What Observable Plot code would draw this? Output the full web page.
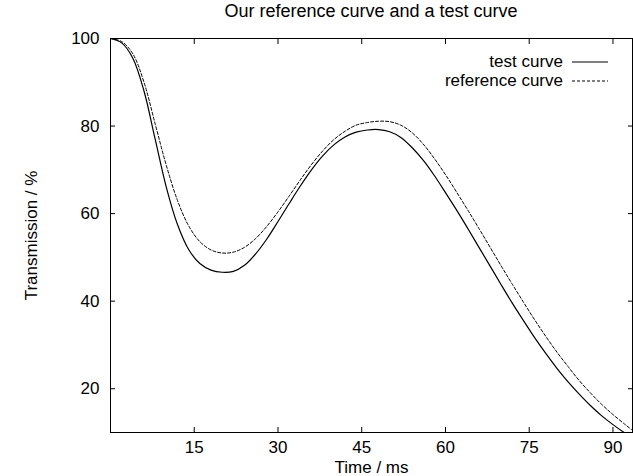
<!DOCTYPE html>
<html><head><meta charset="utf-8">
<script src="https://cdn.jsdelivr.net/npm/d3@7"></script>
<script src="https://cdn.jsdelivr.net/npm/@observablehq/plot@0.6"></script>
<style>
body{margin:0;background:#fff;font-family:"Liberation Sans",Arial,Helvetica,sans-serif;color:#000;}
#wrap{position:relative;width:633px;height:476px;overflow:hidden;}
#title{position:absolute;left:110px;width:522px;top:1px;text-align:center;font-size:18px;}
.leg{position:absolute;font-size:17px;line-height:17px;white-space:nowrap;}
</style></head><body>
<div id="wrap"><div id="title"></div><div id="chart"></div><div id="legend"></div></div>
<script>
const titleText = "Our reference curve and a test curve";
const xLabel = "Time / ms";
const yLabel = "Transmission / %";
const seriesNames = ["test curve", "reference curve"];
const xTicks = [15, 30, 45, 60, 75, 90];
const yTicks = [20, 40, 60, 80, 100];

const time = [0, 2, 4, 6, 8, 10, 12, 14, 16, 18, 20, 22, 24, 26, 28, 30, 32, 34, 36, 38, 40, 42, 44, 46, 48, 50, 52, 54, 56, 58, 60, 62, 64, 66, 68, 70, 72, 74, 76, 78, 80, 82, 84, 86, 88, 90, 92, 93.5];
const testCurve = [100, 99, 95.5, 88, 77, 66, 57.5, 51.8, 48.6, 47.1, 46.6, 46.8, 48.2, 50.8, 54.2, 58.2, 62.3, 66.3, 70, 73.2, 75.7, 77.5, 78.6, 79.1, 79.2, 78.7, 77.4, 75.1, 72.2, 68.7, 64.8, 60.8, 56.6, 52.3, 48, 43.7, 39.5, 35.5, 31.6, 28, 24.6, 21.5, 18.7, 16.1, 13.8, 11.8, 10, 8.8];
const referenceCurve = [100, 99.3, 96.5, 90, 80.5, 71, 63, 57.2, 53.6, 51.7, 51, 51.2, 52.3, 54.3, 57.1, 60.4, 64, 67.7, 71.2, 74.3, 76.9, 78.8, 80.2, 80.8, 81.1, 81, 80.2, 78.5, 75.9, 72.6, 68.9, 64.9, 60.8, 56.6, 52.3, 48, 43.8, 39.7, 35.7, 31.9, 28.3, 25, 21.8, 19, 16.4, 14.1, 12, 10.5];

const rows = [];
time.forEach((t, i) => {
  rows.push({t, v: testCurve[i], s: seriesNames[0]});
  rows.push({t, v: referenceCurve[i], s: seriesNames[1]});
});

document.getElementById("title").textContent = titleText;

const fs = "17px";
const chart = Plot.plot({
  width: 633,
  height: 476,
  marginLeft: 110,
  marginRight: 1,
  marginTop: 38,
  marginBottom: 44,
  style: {fontFamily: '"Liberation Sans", Arial, Helvetica, sans-serif', fontSize: fs, color: "#000", background: "#fff"},
  x: {domain: [0, 93.5]},
  y: {domain: [10, 100]},
  marks: [
    Plot.frame({stroke: "#000", strokeWidth: 1}),
    Plot.axisY(yTicks, {anchor: "left", tickSize: -5, tickPadding: 16, fontSize: fs, label: yLabel, labelAnchor: "center", labelArrow: "none", labelOffset: 86}),
    Plot.axisY(yTicks, {anchor: "right", tickSize: -5, tickFormat: () => "", label: null}),
    Plot.axisX(xTicks, {anchor: "bottom", tickSize: -5, tickPadding: 13, fontSize: fs, label: xLabel, labelAnchor: "center", labelArrow: "none", labelOffset: 40}),
    Plot.axisX(xTicks, {anchor: "top", tickSize: -5, tickFormat: () => "", label: null}),
    Plot.line(rows.filter(d => d.s === seriesNames[1]), {x: "t", y: "v", stroke: "#000", strokeWidth: 1, strokeDasharray: "3,2", curve: "catmull-rom", clip: true}),
    Plot.line(rows.filter(d => d.s === seriesNames[0]), {x: "t", y: "v", stroke: "#000", strokeWidth: 1.2, curve: "catmull-rom", clip: true})
  ]
});
document.getElementById("chart").appendChild(chart);

// legend (gnuplot-style, top-right inside the frame)
const leg = document.getElementById("legend");
seriesNames.forEach((name, i) => {
  const yc = 62 + i * 19;
  const txt = document.createElement("div");
  txt.className = "leg";
  txt.style.right = (633 - 563) + "px";
  txt.style.top = (yc - 9) + "px";
  txt.textContent = name;
  leg.appendChild(txt);
  const ns = "http://www.w3.org/2000/svg";
  const s = document.createElementNS(ns, "svg");
  s.setAttribute("width", 40); s.setAttribute("height", 4);
  s.style.position = "absolute"; s.style.left = "572px"; s.style.top = (yc - 2) + "px";
  const l = document.createElementNS(ns, "line");
  l.setAttribute("x1", 0); l.setAttribute("x2", 36); l.setAttribute("y1", 2); l.setAttribute("y2", 2);
  l.setAttribute("stroke", "#000");
  l.setAttribute("stroke-width", i === 0 ? 1.2 : 1);
  if (i === 1) l.setAttribute("stroke-dasharray", "3,2");
  s.appendChild(l);
  leg.appendChild(s);
});
</script>
</body></html>
